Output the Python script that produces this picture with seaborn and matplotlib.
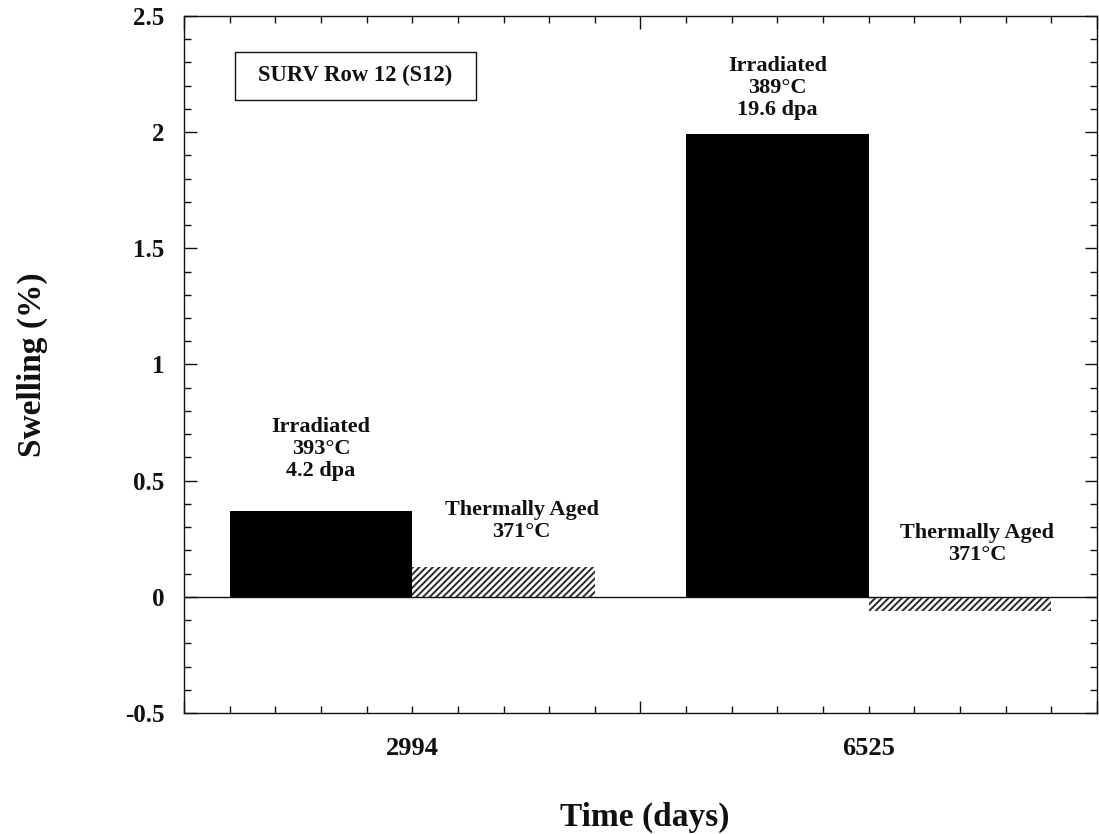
import numpy as np
import pandas as pd
import matplotlib
matplotlib.use("Agg")
import matplotlib.pyplot as plt
from matplotlib.patches import Rectangle
from matplotlib.ticker import MultipleLocator, FixedLocator, FuncFormatter
import seaborn as sns

# Swelling measurements for SURV row 12 specimens
days = ["2994", "6525"]
conditions = ["Irradiated", "Thermally Aged"]
irradiated_swelling = [0.37, 1.99]
aged_swelling = [0.13, -0.06]
irradiated_temps = ["393°C", "389°C"]
irradiated_dpa = ["4.2 dpa", "19.6 dpa"]
aged_temps = ["371°C", "371°C"]

df = pd.DataFrame({
    "day": days * 2,
    "condition": [conditions[0]] * len(days) + [conditions[1]] * len(days),
    "swelling": irradiated_swelling + aged_swelling,
})

sns.set_theme(style="ticks")
plt.rcParams["font.family"] = ["Liberation Serif", "DejaVu Serif"]
plt.rcParams["font.weight"] = "bold"
plt.rcParams["axes.labelweight"] = "bold"
plt.rcParams["hatch.linewidth"] = 1.4
INK = "#111111"

fig = plt.figure(figsize=(10.99, 8.34), dpi=100)
ax = fig.add_axes([0.1674, 0.1451, 0.8307, 0.8357])

sns.barplot(
    data=df, x="day", y="swelling", hue="condition",
    order=days, hue_order=conditions,
    palette={"Irradiated": "black", "Thermally Aged": "white"},
    width=0.8, gap=0, errorbar=None, legend=False, saturation=1, ax=ax,
)

# Solid bars for irradiated, hatched bars for thermally aged
for p in ax.containers[0]:
    p.set_facecolor("black")
    p.set_edgecolor("black")
    p.set_linewidth(0)
for p in ax.containers[1]:
    p.set_facecolor("white")
    p.set_edgecolor("#2a2a2a")
    p.set_hatch("/////")
    p.set_linewidth(0)

ax.axhline(0, color=INK, lw=1.0, zorder=3)

ax.set_xlim(-0.5, 1.5)
ax.set_ylim(-0.5, 2.5)

# y axis ticks
ax.yaxis.set_major_locator(MultipleLocator(0.5))
ax.yaxis.set_minor_locator(MultipleLocator(0.1))
ax.yaxis.set_major_formatter(FuncFormatter(lambda v, pos: f"{v:g}"))

# x axis: long tick between groups, short ticks every 0.1
ax.xaxis.set_major_locator(FixedLocator([-0.5, 0.5, 1.5]))
ax.xaxis.set_minor_locator(FixedLocator(np.round(np.arange(-0.5, 1.51, 0.1), 2)))
ax.tick_params(axis="x", which="both", labelbottom=False)

ax.tick_params(which="both", direction="in", top=True, right=True,
               color=INK, width=1.0)
ax.tick_params(which="major", length=9)
ax.tick_params(which="minor", length=5)
ax.tick_params(axis="y", which="major", labelsize=18, pad=14, labelcolor=INK)

for s in ax.spines.values():
    s.set_visible(True)
    s.set_linewidth(1.0)
    s.set_color(INK)

# Day labels under each group
sec = ax.secondary_xaxis("bottom")
sec.set_xticks([0, 1], labels=days)
sec.tick_params(length=0, pad=17, labelsize=19, labelcolor=INK)
sec.spines["bottom"].set_visible(False)

ax.set_xlabel("Time (days)", fontsize=24, color=INK, fontweight="bold")
ax.xaxis.set_label_coords(0.505, -0.127)
ax.set_ylabel("Swelling (%)", fontsize=24, color=INK, fontweight="bold")
ax.yaxis.set_label_coords(-0.149, 0.5)

# Bar annotations
label_kw = dict(ha="center", va="bottom", fontsize=16, color=INK,
                linespacing=1.12, multialignment="center")
irr_label_y = [0.50, 2.053]
aged_label_x = [0.24, 1.237]
aged_label_y = [0.237, 0.138]
for i in range(len(days)):
    ax.text(i - 0.2, irr_label_y[i],
            f"Irradiated\n{irradiated_temps[i]}\n{irradiated_dpa[i]}", **label_kw)
    ax.text(aged_label_x[i], aged_label_y[i],
            f"Thermally Aged\n{aged_temps[i]}", **label_kw)

# Specimen identification box
ax.add_patch(Rectangle((0.0559, 0.8795), 0.264, 0.0689, transform=ax.transAxes,
                       fill=False, edgecolor=INK, lw=1.0, zorder=4))
ax.text(0.0559 + 0.132, 0.8795 + 0.0345, "SURV Row 12 (S12)", transform=ax.transAxes,
        ha="center", va="center", fontsize=16.3, color=INK)

fig.savefig("out.png", dpi=100, facecolor="white")
